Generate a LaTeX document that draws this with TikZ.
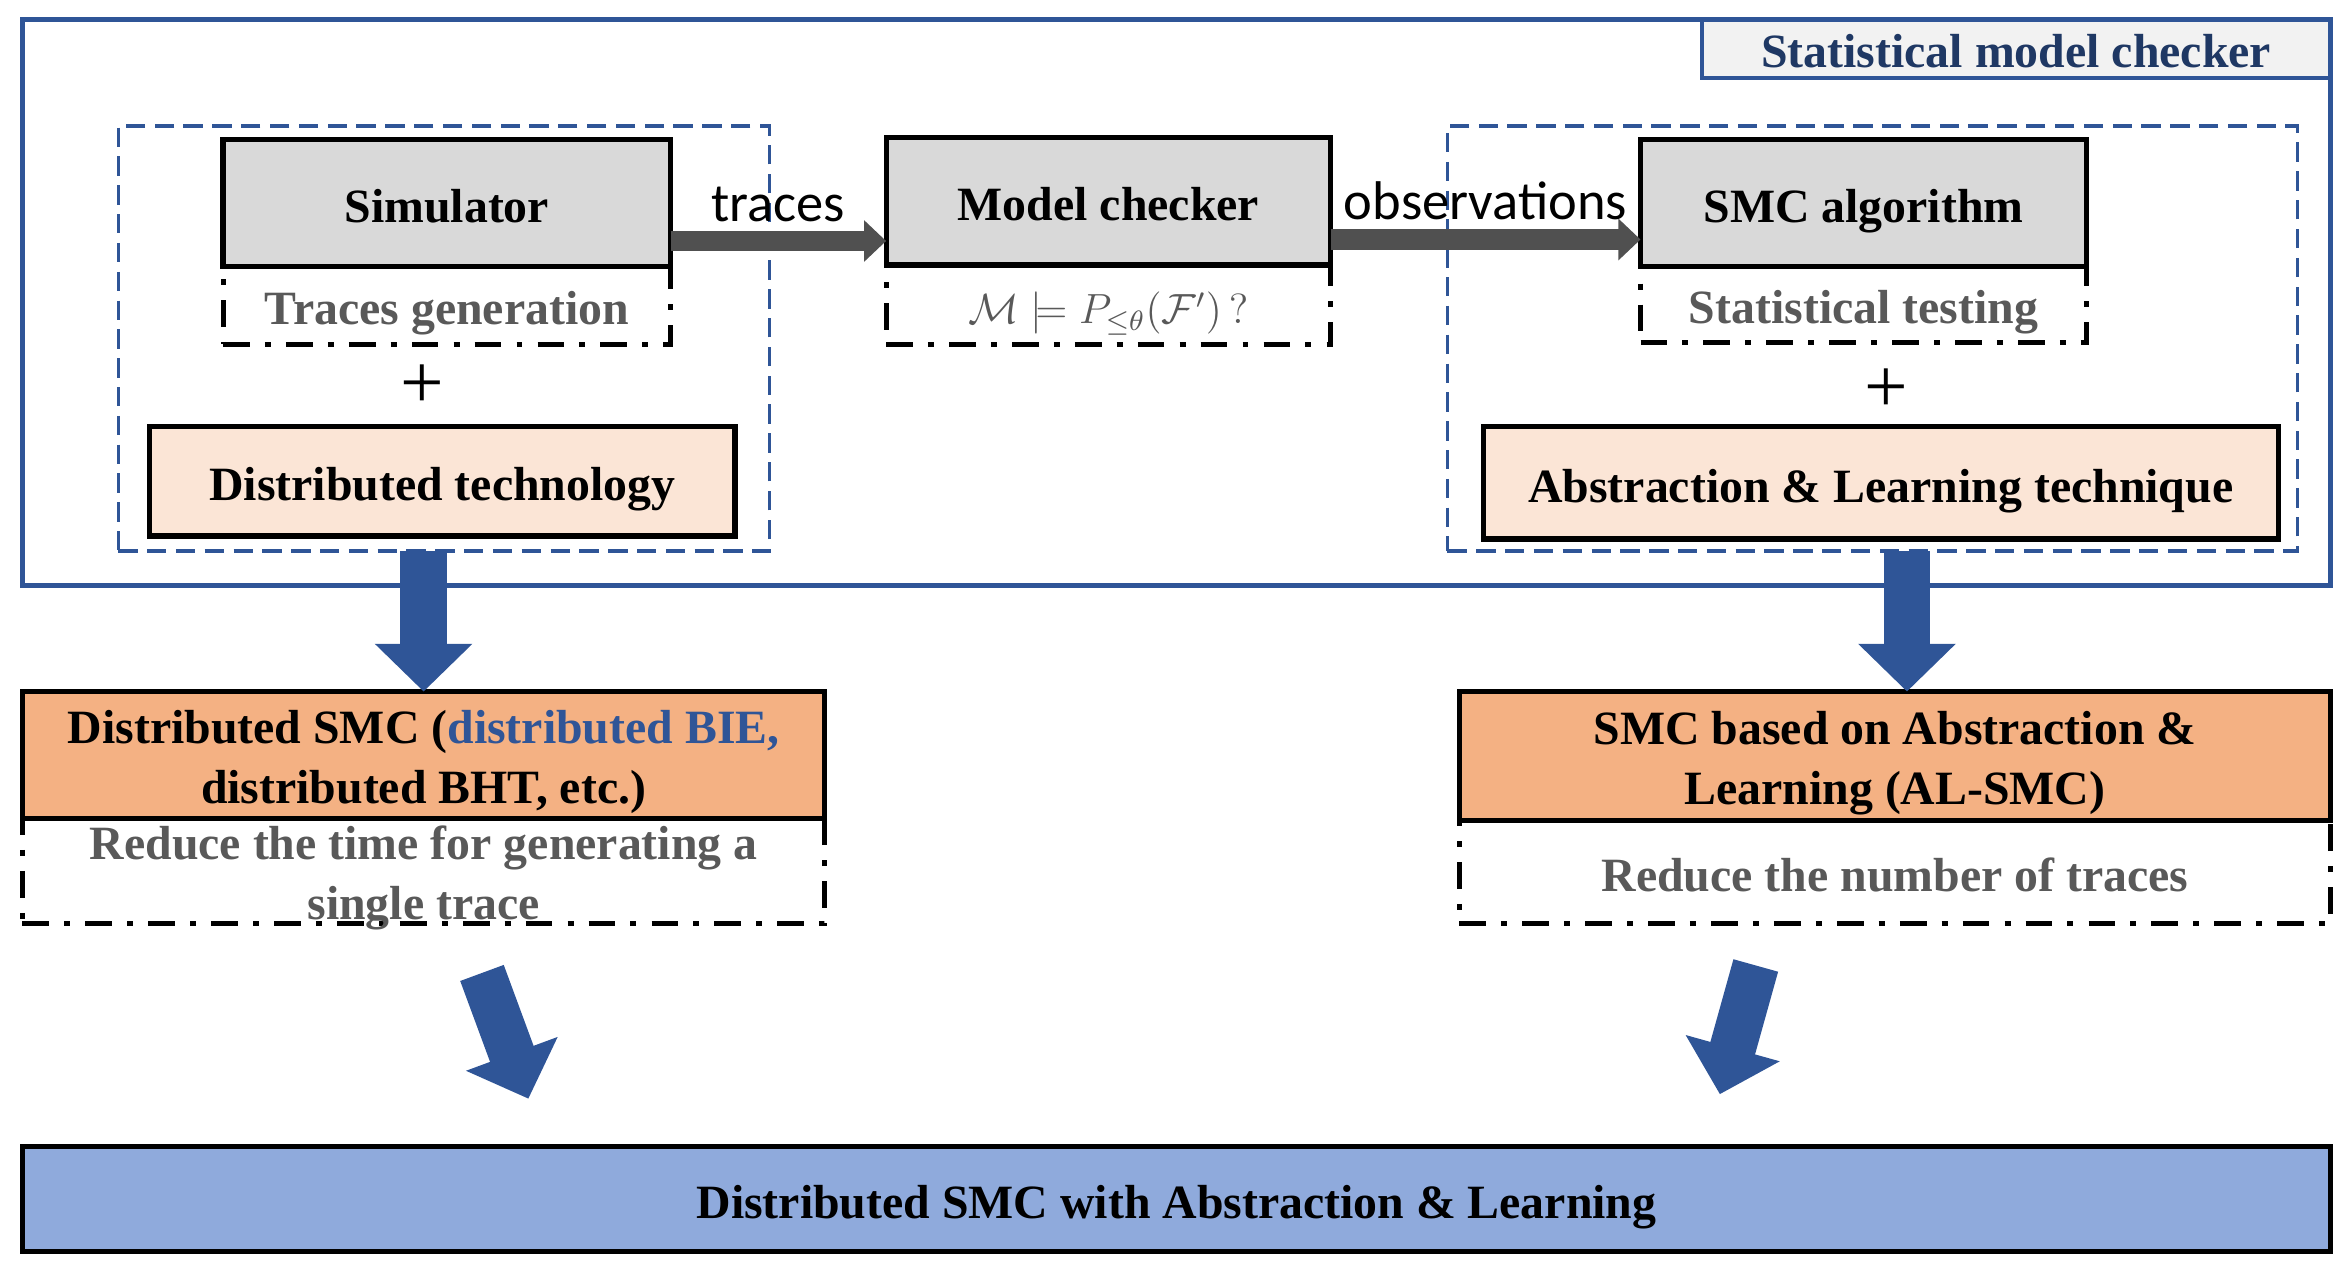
\documentclass[tikz,border=0pt]{standalone}
\usepackage{fontspec}
\setmainfont{Liberation Serif}
\newfontfamily\labfont{Carlito}
\usetikzlibrary{arrows.meta}
\definecolor{bblue}{HTML}{2F5597}
\definecolor{tblue}{HTML}{1F3864}
\definecolor{boxgray}{HTML}{D9D9D9}
\definecolor{peach}{HTML}{FBE5D6}
\definecolor{orng}{HTML}{F4B183}
\definecolor{lblue}{HTML}{8FAADC}
\definecolor{tgray}{HTML}{595959}
\definecolor{agray}{HTML}{505050}
\definecolor{titlefill}{HTML}{F2F2F2}
\newcommand\myfs{\fontsize{13.6}{17}\selectfont}
\newcommand\twoline[2]{\begin{tabular}{@{}c@{}}#1\\#2\end{tabular}}
\begin{document}
\begin{tikzpicture}[x=0.014968cm,y=-0.014968cm,
  wh/.style 2 args={minimum width=#1*0.42588pt,minimum height=#2*0.42588pt},
  txt/.style={text height=11pt,text depth=0pt},
  sbox/.style={draw=black,line width=1.5pt,inner sep=0pt,outer sep=0pt,font=\myfs\bfseries,txt},
  ddbox/.style={draw=black,line width=1.4pt,dash pattern=on 7.6pt off 4.3pt on 1.7pt off 4.3pt,inner sep=0pt,outer sep=0pt,font=\myfs\bfseries,text=tgray,txt},
  bdash/.style={draw=bblue,line width=1pt,dash pattern=on 5.5pt off 2.7pt,inner sep=0pt,outer sep=0pt},
  garrow/.style={draw=agray,line width=5.7pt,-{Triangle[length=6.3pt,width=11.5pt]}},
  barrow/.style={draw=bblue,line width=13.2pt,-{Triangle[length=13.6pt,width=27pt]}},
  lab/.style={font=\labfont\fontsize{15.5}{18}\selectfont,inner sep=0pt,outer sep=0pt,text=black},
  plus/.style={font=\fontsize{22}{22}\selectfont,inner sep=0pt}]
\useasboundingbox (0,0) rectangle (1568,850);

% outer frame and title
\node[draw=bblue,line width=1.3pt,inner sep=0pt,outer sep=0pt,wh={1542}{378}] (outer) at (786,202) {};
\node[draw=bblue,line width=1.3pt,fill=titlefill,inner sep=0pt,outer sep=0pt,wh={420}{39},font=\myfs\bfseries,text=tblue,txt] (title) at (1347,32.5) {Statistical model checker};

% dashed groups
\node[bdash,wh={435}{284}] (ldash) at (296.5,226) {};
\node[bdash,wh={568}{284}] (rdash) at (1251,226) {};

% dash-dot description boxes
\node[ddbox,wh={299}{52}] (tgen) at (298.5,204) {Traces generation};
\node[ddbox,wh={297}{53}] (mcq) at (740.5,203.5) {\fontsize{12}{14}\selectfont$\mathcal{M}\models P_{\le\theta}(\mathcal{F}')\,?$};
\node[ddbox,wh={298}{51}] (stest) at (1245,203.5) {Statistical testing};
\node[ddbox,wh={536}{70}] (dsmcr) at (283,582) {\twoline{Reduce the time for generating a}{single trace}};
\node[ddbox,wh={582}{69}] (alsmcr) at (1266,582.5) {Reduce the number of traces};

% solid boxes
\node[sbox,fill=boxgray,wh={299}{85}] (sim) at (298.5,135.5) {Simulator};
\node[sbox,fill=boxgray,wh={297}{85}] (mc) at (740.5,134.5) {Model checker};
\node[sbox,fill=boxgray,wh={298}{85}] (smc) at (1245,135.5) {SMC algorithm};
\node[sbox,fill=peach,wh={391}{73}] (dtech) at (295.5,321.5) {Distributed technology};
\node[sbox,fill=peach,wh={531}{75}] (altech) at (1256.5,322.5) {Abstraction \& Learning technique};
\node[sbox,fill=orng,wh={536}{85}] (dsmc) at (283,504.5) {\twoline{Distributed SMC (\textcolor{bblue}{distributed BIE,}}{distributed BHT, etc.)}};
\node[sbox,fill=orng,wh={582}{86}] (alsmc) at (1266,505) {\twoline{SMC based on Abstraction \&}{Learning (AL-SMC)}};
\node[sbox,fill=lblue,wh={1542}{70}] (final) at (786,801) {Distributed SMC with Abstraction \& Learning};

% plus signs
\node[plus] (plus1) at (282,258) {+};
\node[plus] (plus2) at (1260,261) {+};

% gray arrows
\coordinate (ty) at (0,161);
\coordinate (oy) at (0,160);
\draw[garrow] (sim.east |- ty) -- (mc.west |- ty) node[lab,midway,above=5.5pt] {traces};
\draw[garrow] (mc.east |- oy) -- (smc.west |- oy) node[lab,midway,above=5.5pt] {observations};

% blue block arrows
\coordinate (rax) at (1274,0);
\draw[barrow] (dsmc.north |- ldash.south) -- (dsmc.north);
\draw[barrow] (rax |- rdash.south) -- (rax |- alsmc.north);
\coordinate (d1s) at (322,650);
\coordinate (d1e) at (353,734);
\coordinate (d2s) at (1173,645);
\coordinate (d2e) at (1149,731);
\draw[barrow] (d1s) -- (d1e);
\draw[barrow] (d2s) -- (d2e);
\end{tikzpicture}
\end{document}
